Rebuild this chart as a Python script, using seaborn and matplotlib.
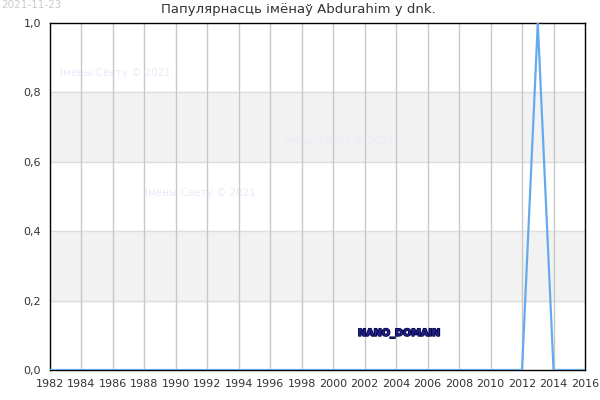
import seaborn as sns
import numpy as np
import pandas as pd
import matplotlib.pyplot as plt
import matplotlib.patheffects as pe

years = list(range(1982, 2017))
values = [0.0] * 31 + [1.0, 0.0, 0.0, 0.0]  # 1982..2012 zero, 2013 peak
x_ticks = list(range(1982, 2017, 2))
y_ticks = [0.0, 0.2, 0.4, 0.6, 0.8, 1.0]
title = "Папулярнасць імёнаў Abdurahim у dnk."

df = pd.DataFrame({"year": years, "value": values})

sns.set_style("white")
plt.rcParams["font.family"] = ["DejaVu Sans"]

fig = plt.figure(figsize=(6, 4), dpi=100)
ax = fig.add_axes([0.0833, 0.075, 0.8917, 0.8675])

# alternating bands
for lo in (0.2, 0.6):
    ax.axhspan(lo, lo + 0.2, color="#f2f2f2", zorder=0)
for y in y_ticks[1:-1]:
    ax.axhline(y, color="#dddddd", lw=1, zorder=1)
for x in x_ticks[1:-1]:
    ax.axvline(x, color="#c8c8c8", lw=1, zorder=1)

sns.lineplot(data=df, x="year", y="value", ax=ax, color="#66aaee", lw=1.6, zorder=3)

ax.set_xlim(1982, 2016)
ax.set_ylim(0, 1)
ax.set_xticks(x_ticks)
ax.set_yticks(y_ticks)
ax.set_yticklabels([f"{v:.1f}".replace(".", ",") for v in y_ticks])
ax.tick_params(labelsize=8, colors="#333333", length=3)
ax.set_xticks(years, minor=True)
ax.tick_params(axis="x", which="minor", length=2)
ax.set_xlabel("")
ax.set_ylabel("")
for s in ax.spines.values():
    s.set_color("black")
    s.set_linewidth(1)

fig.text(0.497, 1 - 10 / 400, title, fontsize=9.5, color="#333333", ha="center", va="center")

# watermarks, under the grid lines
wm = "Імёны Свету © 2021"
for px, py in [(60, 73), (283, 141), (145, 193)]:
    ax.text(px / 600, 1 - py / 400, wm, fontsize=7.5, color="#ebebfb", va="center",
            transform=fig.transFigure, zorder=0.5)
fig.text(358 / 600, 1 - 333 / 400, "NANO_DOMAIN", fontsize=7, color="#222288",
         va="center", weight="bold",
         path_effects=[pe.withStroke(linewidth=1.2, foreground="#000044")])
fig.text(1 / 600, 1 - 5 / 400, "2021-11-23", fontsize=7.5, color="#cccccc", va="center")

fig.savefig("out.png", dpi=100)
